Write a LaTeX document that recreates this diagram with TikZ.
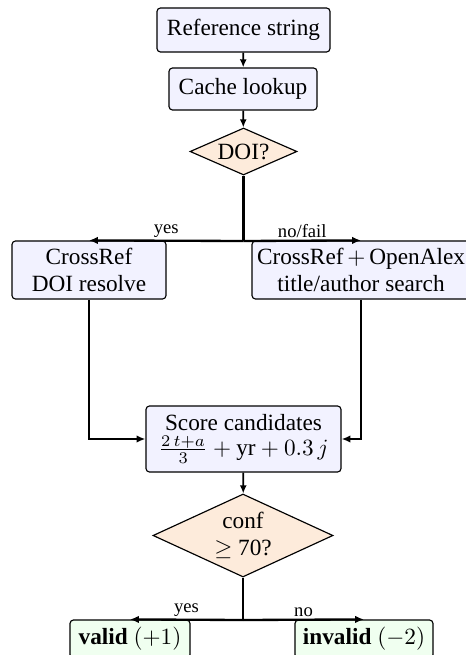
\documentclass[tikz,border=0pt]{standalone}
\usepackage{amsmath}
\usepackage{fontspec}
\setmainfont{Liberation Serif}
\usetikzlibrary{shapes.geometric,arrows.meta}
\definecolor{boxfill}{RGB}{242,242,255}
\definecolor{decfill}{RGB}{253,235,219}
\definecolor{okfill}{RGB}{240,255,240}
\tikzset{
  pbox/.style={draw, line width=0.5pt, rounded corners=1.5pt, fill=boxfill, align=center, inner sep=1pt, font=\fontsize{10}{11.5}\selectfont},
  dbox/.style={draw, line width=0.5pt, diamond, fill=decfill, align=center, inner sep=0pt, aspect=2, font=\fontsize{10}{11.5}\selectfont},
  obox/.style={draw, line width=0.5pt, rounded corners=1.5pt, fill=okfill, align=center, inner sep=1pt, font=\fontsize{10}{11.5}\selectfont},
  arr/.style={line width=0.75pt, -{Latex[length=3.5pt,width=3pt]}},
  bline/.style={line width=1pt},
  barr/.style={line width=1pt, -{Latex[length=3.8pt,width=3.2pt]}},
  lbl/.style={font=\footnotesize, inner sep=1pt}
}
\begin{document}
\begin{tikzpicture}[x=0.43pt,y=-0.43pt]
\useasboundingbox (0,0) rectangle (465,655);
\node[pbox, minimum width={173*0.43pt}, minimum height={44*0.43pt}] (ref) at (243.5,30) {Reference string};
\node[pbox, minimum width={148*0.43pt}, minimum height={42*0.43pt}] (cache) at (243,89) {Cache lookup};
\node[dbox, minimum width={107*0.43pt}, minimum height={47*0.43pt}] (doi) at (243.5,151.5) {DOI?};
\coordinate (j1) at (243.5,241);
\node[pbox, minimum width={154*0.43pt}, minimum height={58*0.43pt}] (cr) at (89,270) {CrossRef\\DOI resolve};
\node[pbox, minimum width={218*0.43pt}, minimum height={58*0.43pt}] (srch) at (361,270) {CrossRef\,$+$\,OpenAlex\\title/author search};
\node[pbox, minimum width={195*0.43pt}, minimum height={66*0.43pt}] (score) at (243.5,439) {Score candidates\\[-1pt]$\frac{2\,t+a}{3}+\text{yr}+0.3\,j$};
\node[dbox, minimum width={180*0.43pt}, minimum height={83*0.43pt}] (conf) at (243,535.5) {conf\\$\geq$ 70?};
\coordinate (j2) at (243,620);
\node[obox, minimum width={120*0.43pt}, minimum height={38*0.43pt}] (valid) at (130,639) {\textbf{valid} $(+1)$};
\node[obox, minimum width={138*0.43pt}, minimum height={38*0.43pt}] (invalid) at (364,639) {\textbf{invalid} $(-2)$};
\draw[arr] (ref) -- (cache);
\draw[arr] (cache) -- (doi);
\draw[bline] (doi.south) -- (j1);
\draw[barr] (j1) -- node[lbl, above] {yes} (cr.north);
\draw[barr] (j1) -- node[lbl, above] {no/fail} (srch.north);
\draw[barr] (cr.south) |- (score.west);
\draw[barr] (srch.south) |- (score.east);
\draw[arr] (score) -- (conf);
\draw[bline] (conf.south) -- (j2);
\draw[barr] (j2) -- node[lbl, above] {yes} (valid.north);
\draw[barr] (j2) -- node[lbl, above] {no} (invalid.north);
\end{tikzpicture}
\end{document}
